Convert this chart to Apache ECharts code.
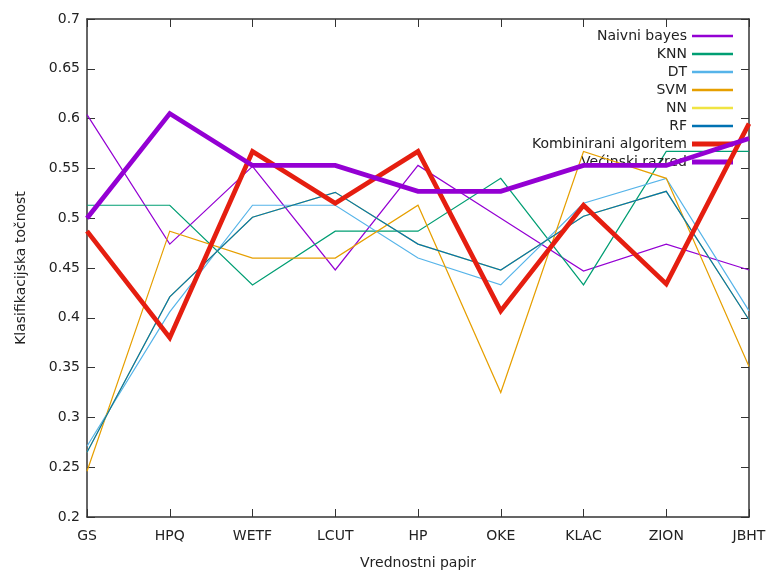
<!DOCTYPE html>
<html>
<head>
<meta charset="utf-8">
<script src="https://cdn.jsdelivr.net/npm/echarts@6/dist/echarts.min.js"></script>
<style>
  html, body { margin: 0; padding: 0; background: #fff; }
  #chart { width: 769px; height: 575px; }
</style>
</head>
<body>
<div id="chart"></div>
<script>
// Stocks on the x axis
const categories = ['GS', 'HPQ', 'WETF', 'LCUT', 'HP', 'OKE', 'KLAC', 'ZION', 'JBHT'];

// Classification accuracy per model
const naivniBayes = [0.604, 0.474, 0.552, 0.448, 0.553, 0.500, 0.447, 0.474, 0.448];
const knn         = [0.513, 0.513, 0.433, 0.487, 0.487, 0.540, 0.433, 0.567, 0.567];
const dt          = [0.271, 0.406, 0.513, 0.513, 0.460, 0.433, 0.515, 0.540, 0.407];
const svm         = [0.246, 0.487, 0.460, 0.460, 0.513, 0.325, 0.567, 0.540, 0.351];
const nn          = [0.265, 0.421, 0.501, 0.526, 0.474, 0.448, 0.502, 0.527, 0.398];
const rf          = [0.265, 0.421, 0.501, 0.526, 0.474, 0.448, 0.502, 0.527, 0.398];
const kombinirani = [0.487, 0.380, 0.567, 0.515, 0.567, 0.407, 0.513, 0.434, 0.595];
const vecinski    = [0.500, 0.605, 0.553, 0.553, 0.527, 0.527, 0.553, 0.553, 0.580];

const yTicks = [0.2, 0.25, 0.3, 0.35, 0.4, 0.45, 0.5, 0.55, 0.6, 0.65, 0.7];

const FONT = 'DejaVu Sans';
const FONT_SIZE = 14;
const TEXT_COLOR = '#222';
const AXIS_COLOR = '#333';

const thinSeries = [
  { name: 'Naivni bayes', data: naivniBayes, color: '#9400d3' },
  { name: 'KNN', data: knn, color: '#009e73' },
  { name: 'DT', data: dt, color: '#56b4e9' },
  { name: 'SVM', data: svm, color: '#e69f00' },
  { name: 'NN', data: nn, color: '#f0e442' },
  { name: 'RF', data: rf, color: '#0072b2' }
];
const thickSeries = [
  { name: 'Kombinirani algoritem', data: kombinirani, color: '#e51e10' },
  { name: 'Većinski razred', data: vecinski, color: '#9400d3' }
];

function makeLine(s, width, z) {
  return {
    name: s.name,
    type: 'line',
    data: s.data,
    showSymbol: false,
    symbol: 'none',
    z: z,
    color: s.color,
    lineStyle: { color: s.color, width: width, join: 'miter' },
    itemStyle: { color: s.color },
    emphasis: { disabled: true },
    animation: false
  };
}

const series = [];
thinSeries.forEach((s, i) => series.push(makeLine(s, 1.2, 2 + i)));
thickSeries.forEach((s, i) => series.push(makeLine(s, 4.7, 10 + i)));

const tickStyle = { show: true, inside: true, length: 8, lineStyle: { color: AXIS_COLOR, width: 1 } };
const lineAxis = { show: true, lineStyle: { color: AXIS_COLOR, width: 1.5 } };

const legendText = { fontFamily: FONT, fontSize: FONT_SIZE, color: TEXT_COLOR, lineHeight: 14 };

const option = {
  backgroundColor: '#fff',
  animation: false,
  grid: { left: 87, right: 20, top: 19, bottom: 56, containLabel: false },
  legend: [
    {
      data: thinSeries.map(s => s.name),
      orient: 'vertical',
      align: 'right',
      right: 36,
      top: 29,
      padding: 0,
      itemWidth: 41,
      itemHeight: 2.5,
      itemGap: 4,
      icon: 'rect',
      textStyle: legendText,
      selectedMode: false
    },
    {
      data: thickSeries.map(s => s.name),
      orient: 'vertical',
      align: 'right',
      right: 36,
      top: 137,
      padding: 0,
      itemWidth: 41,
      itemHeight: 5,
      itemGap: 4,
      icon: 'rect',
      textStyle: legendText,
      selectedMode: false
    }
  ],
  xAxis: [
    {
      type: 'category',
      data: categories,
      boundaryGap: false,
      name: 'Vrednostni papir',
      nameLocation: 'middle',
      nameGap: 39,
      nameTextStyle: { fontFamily: FONT, fontSize: FONT_SIZE, color: TEXT_COLOR },
      axisLine: lineAxis,
      axisTick: Object.assign({ alignWithLabel: true }, tickStyle),
      axisLabel: { fontFamily: FONT, fontSize: FONT_SIZE, color: TEXT_COLOR, margin: 12, interval: 0 },
      splitLine: { show: false }
    },
    {
      type: 'category',
      data: categories,
      boundaryGap: false,
      position: 'top',
      axisLine: lineAxis,
      axisTick: tickStyle,
      axisLabel: { show: false },
      splitLine: { show: false }
    }
  ],
  yAxis: [
    {
      type: 'value',
      min: 0.2,
      max: 0.7,
      interval: 0.05,
      name: 'Klasifikacijska točnost',
      nameLocation: 'middle',
      nameGap: 59,
      nameRotate: 90,
      nameTextStyle: { fontFamily: FONT, fontSize: FONT_SIZE, color: TEXT_COLOR },
      axisLine: lineAxis,
      axisTick: tickStyle,
      axisLabel: {
        fontFamily: FONT, fontSize: FONT_SIZE, color: TEXT_COLOR, margin: 7,
        formatter: v => {
          const t = yTicks.find(x => Math.abs(x - v) < 1e-6);
          return t === undefined ? '' : String(t);
        }
      },
      splitLine: { show: false }
    },
    {
      type: 'value',
      min: 0.2,
      max: 0.7,
      interval: 0.05,
      position: 'right',
      axisLine: lineAxis,
      axisTick: tickStyle,
      axisLabel: { show: false },
      splitLine: { show: false }
    }
  ],
  series: series
};

const chart = echarts.init(document.getElementById('chart'), null, { renderer: 'canvas' });
chart.setOption(option);
</script>
</body>
</html>
